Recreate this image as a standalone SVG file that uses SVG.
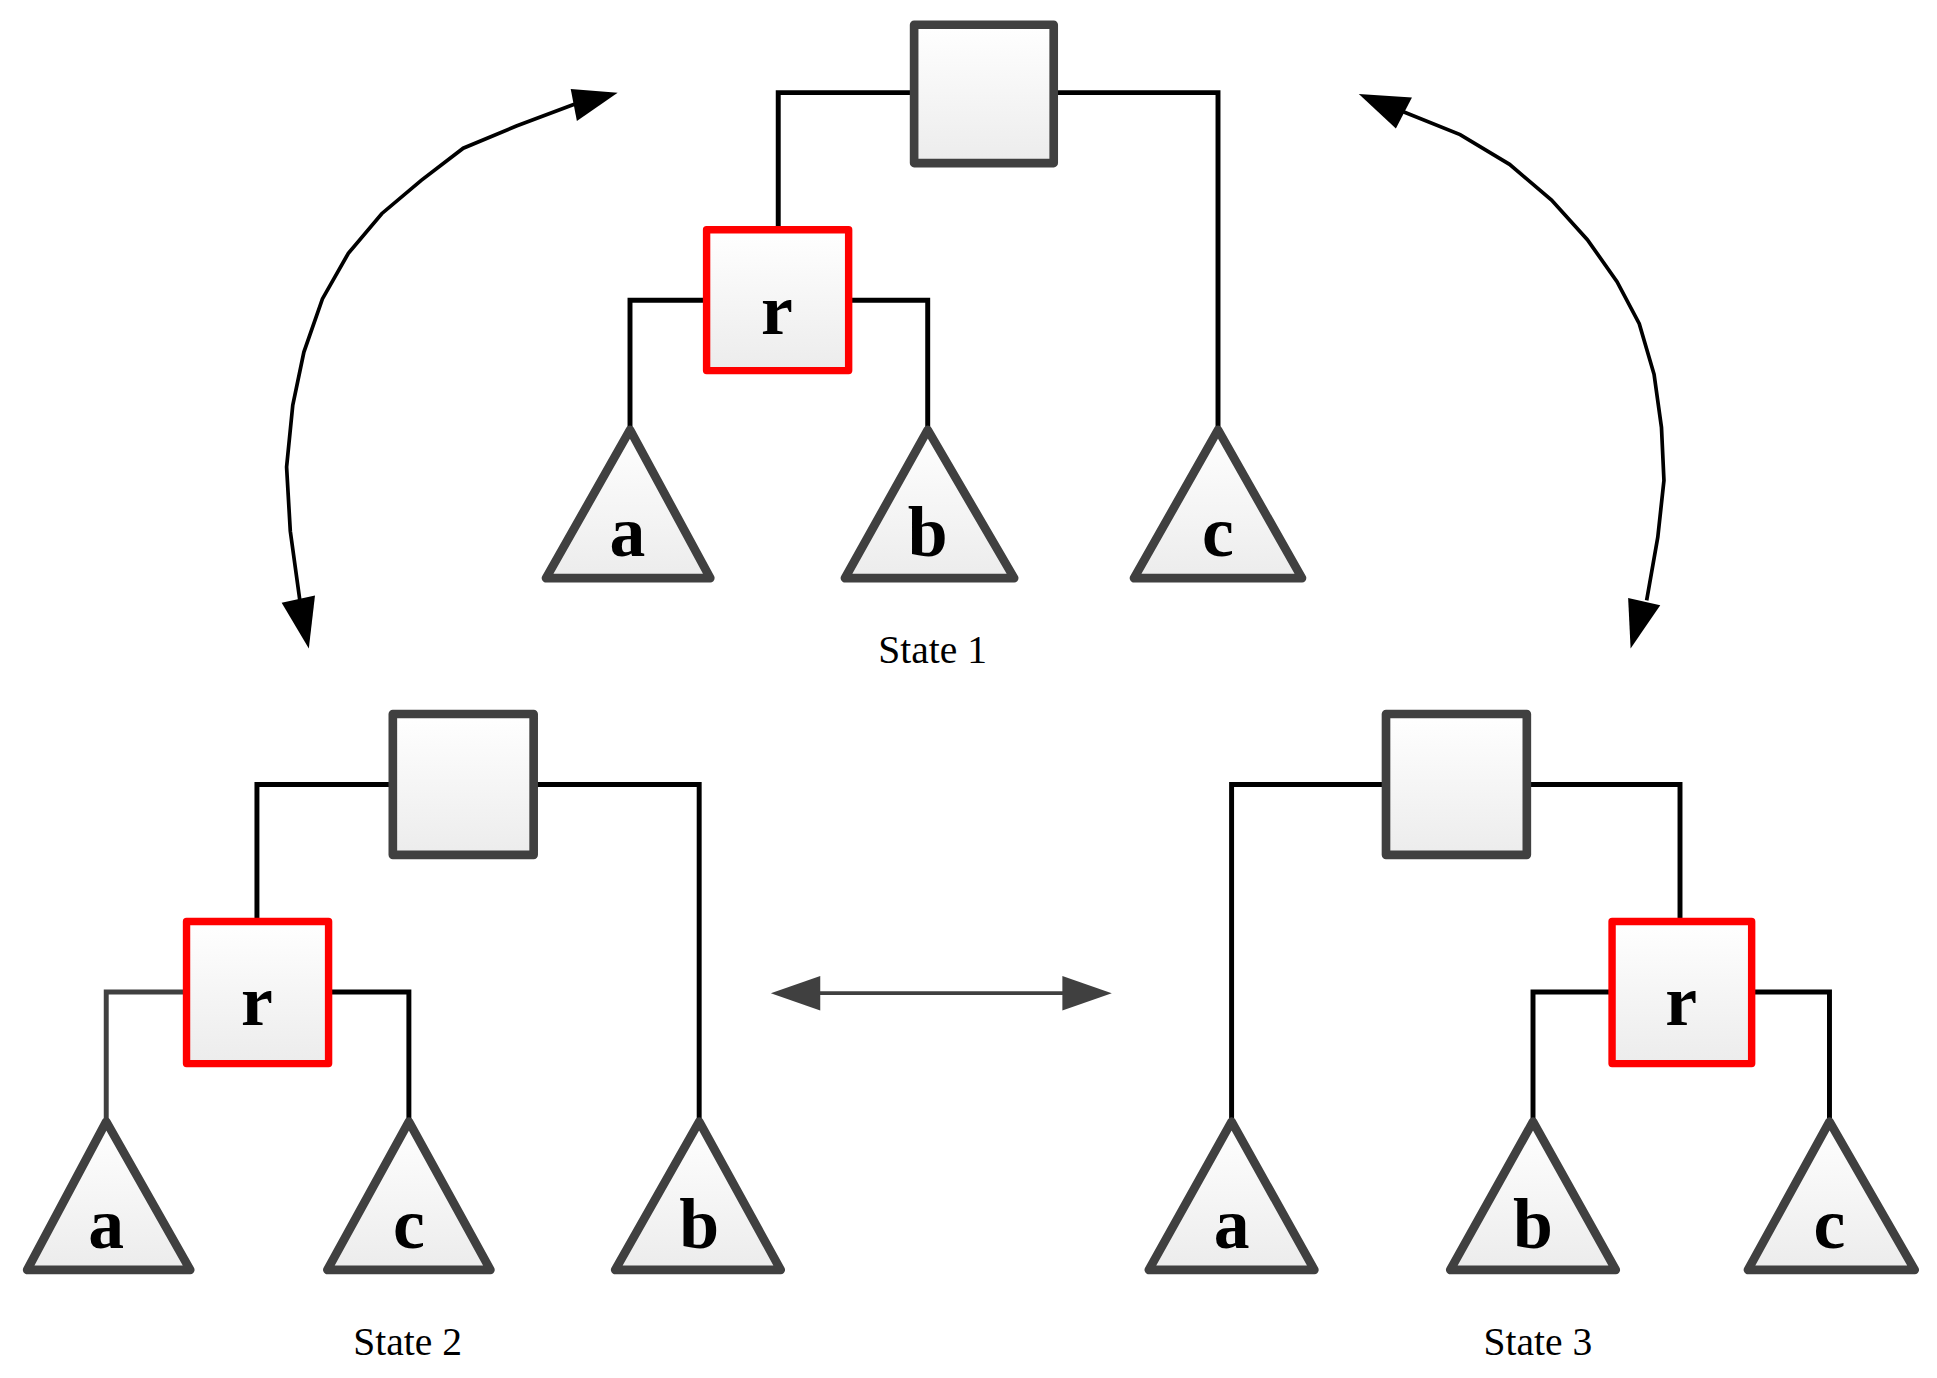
<svg xmlns="http://www.w3.org/2000/svg" width="1937" height="1378" viewBox="0 0 1937 1378">
<defs>
<linearGradient id="g" x1="0" y1="0" x2="0" y2="1"><stop offset="0" stop-color="#ffffff"/><stop offset="1" stop-color="#ececec"/></linearGradient>
<style>
.sq{fill:url(#g);stroke:#404040;stroke-width:7;stroke-linejoin:round}
.rb{fill:url(#g);stroke:#ff0000;stroke-width:6;stroke-linejoin:round}
.tr{fill:url(#g);stroke:#404040;stroke-width:7;stroke-linejoin:round}
.ln{fill:none;stroke:#000;stroke-width:4}
.cv{fill:none;stroke:#000;stroke-width:3}
.lt{font-family:"Liberation Serif",serif;font-weight:bold;font-size:58px;text-anchor:middle;fill:#000}
.st{font-family:"Liberation Serif",serif;font-size:32px;text-anchor:middle;fill:#000}
</style>
</defs>
<rect width="1937" height="1378" fill="#fff"/>
<g transform="scale(1.2353)">
<g id="connectors">
<polyline class="ln" points="630,185 630,75 740,75"/>
<polyline class="ln" points="853,75 986,75 986,348"/>
<polyline class="ln" points="572,243 510,243 510,348"/>
<polyline class="ln" points="687,243 751,243 751,348"/>
<polyline class="ln" points="208,745 208,635 318,635"/>
<polyline class="ln" points="432,635 566,635 566,908"/>
<polyline class="ln" points="151,803 86,803 86,908" stroke="#404040" style="stroke:#404040"/>
<polyline class="ln" points="266,803 331,803 331,908"/>
<polyline class="ln" points="1122,635 997,635 997,908"/>
<polyline class="ln" points="1236,635 1360,635 1360,746"/>
<polyline class="ln" points="1305,803 1241,803 1241,908"/>
<polyline class="ln" points="1418,803 1481,803 1481,908"/>
<line x1="660" y1="804" x2="864" y2="804" stroke="#404040" stroke-width="3"/>
<polygon points="624,804 664,790 664,818" fill="#404040"/>
<polygon points="900,804 860,790 860,818" fill="#404040"/>
<polyline class="cv" points="243,488 235,430 232,378 237,328 246,285 261,242 282,205 309,173 341,146 375,120 418,102 466,84"/>
<polygon points="500,75 462,72 467,98" fill="#000"/>
<polygon points="250,525 228,488 255,482" fill="#000"/>
<polyline class="cv" points="1135,90 1182,109 1222,133 1256,162 1285,194 1309,228 1327,262 1339,303 1345,346 1347,389 1342,435 1333,486"/>
<polygon points="1100,76 1143,79 1130,104" fill="#000"/>
<polygon points="1320,525 1318,484 1344,490" fill="#000"/>
</g>
<g id="s1-root"><rect class="sq" x="740" y="20" width="113" height="112"/></g>
<g id="s1-r"><rect class="rb" x="572" y="186" width="115" height="114"/><text class="lt" x="629" y="270">r</text></g>
<g id="s1-a"><polygon class="tr" points="510,348 442,468 575,468"/><text class="lt" x="508" y="450">a</text></g>
<g id="s1-b"><polygon class="tr" points="751,348 684,468 821,468"/><text class="lt" x="751" y="450">b</text></g>
<g id="s1-c"><polygon class="tr" points="986,348 918,468 1054,468"/><text class="lt" x="986" y="450">c</text></g>
<text class="st" x="755" y="537">State 1</text>
<g id="s2-root"><rect class="sq" x="318" y="578" width="114" height="114"/></g>
<g id="s2-r"><rect class="rb" x="151" y="746" width="115" height="115"/><text class="lt" x="208" y="830">r</text></g>
<g id="s2-a"><polygon class="tr" points="86,908 22,1028 154,1028"/><text class="lt" x="86" y="1010">a</text></g>
<g id="s2-c"><polygon class="tr" points="331,908 265,1028 397,1028"/><text class="lt" x="331" y="1010">c</text></g>
<g id="s2-b"><polygon class="tr" points="566,908 498,1028 632,1028"/><text class="lt" x="566" y="1010">b</text></g>
<text class="st" x="330" y="1097">State 2</text>
<g id="s3-root"><rect class="sq" x="1122" y="578" width="114" height="114"/></g>
<g id="s3-r"><rect class="rb" x="1305" y="746" width="113" height="115"/><text class="lt" x="1361" y="830">r</text></g>
<g id="s3-a"><polygon class="tr" points="997,908 930,1028 1064,1028"/><text class="lt" x="997" y="1010">a</text></g>
<g id="s3-b"><polygon class="tr" points="1241,908 1174,1028 1308,1028"/><text class="lt" x="1241" y="1010">b</text></g>
<g id="s3-c"><polygon class="tr" points="1481,908 1415,1028 1550,1028"/><text class="lt" x="1481" y="1010">c</text></g>
<text class="st" x="1245" y="1097">State 3</text>
</g>
</svg>
